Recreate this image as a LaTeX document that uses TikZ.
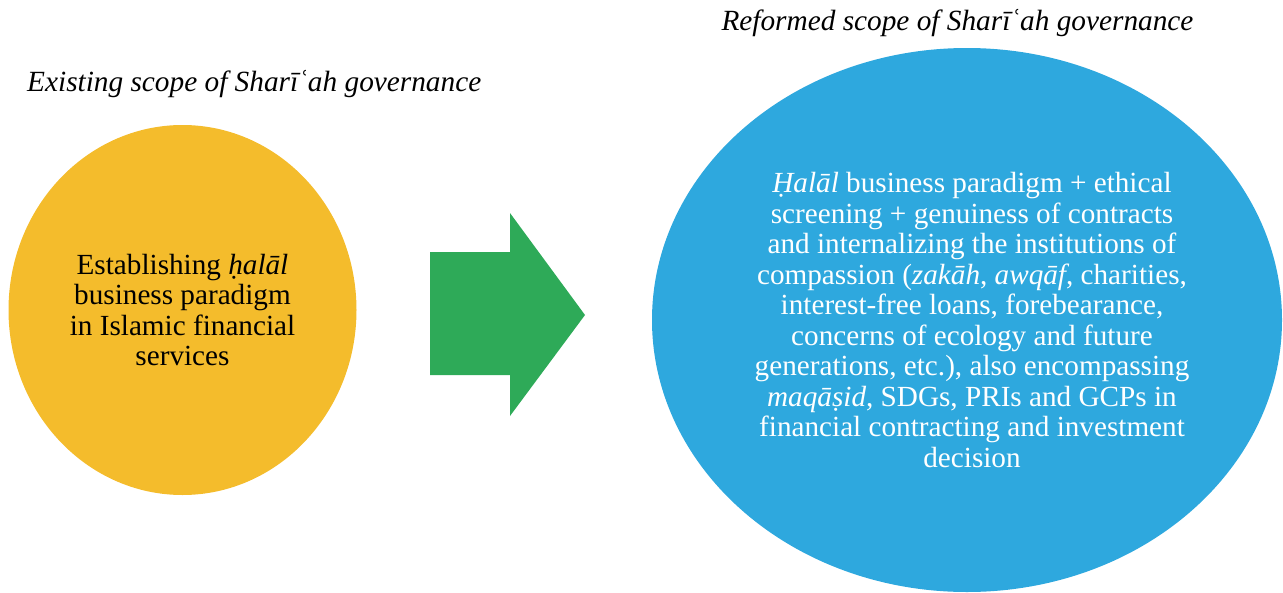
\documentclass[tikz,border=0pt]{standalone}
\usepackage{fontspec}
\setmainfont{Liberation Serif}
\usetikzlibrary{shapes.geometric,positioning}
\definecolor{oldyellow}{RGB}{244,188,44}
\definecolor{shiftgreen}{RGB}{46,170,88}
\definecolor{newblue}{RGB}{46,168,222}

\begin{document}
\begin{tikzpicture}[x=1pt,y=-1pt,
  bubble/.style={ellipse,inner sep=0pt},
  bubbletext/.style={align=center,font=\fontsize{29.2}{30.5}\selectfont},
  heading/.style={font=\fontsize{29.3}{30}\selectfont\itshape,inner sep=0pt}]
\useasboundingbox (0,0) rectangle (1283,592);
% the two scopes
\node[bubble,fill=oldyellow,minimum width=348pt,minimum height=370pt] (old) at (182.5,310) {};
\node[bubble,fill=newblue,minimum width=630pt,minimum height=544pt] (new) at (967,320) {};
\node[bubbletext] (oldtext) at (182.5,310) {Establishing \textit{ḥalāl}\\business paradigm\\in Islamic financial\\services};
\node[bubbletext,text=white] (newtext) at (972,320) {\textit{Ḥalāl} business paradigm + ethical\\screening + genuiness of contracts\\and internalizing the institutions of\\compassion (\textit{zakāh}, \textit{awqāf}, charities,\\interest-free loans, forebearance,\\concerns of ecology and future\\generations, etc.), also encompassing\\\textit{maqāṣid}, SDGs, PRIs and GCPs in\\financial contracting and investment\\decision};
% headings
\node[heading,anchor=west] (oldtitle) at (27,84) {Existing scope of Sharīʿah governance};
\node[heading] (newtitle) at (957.5,23) {Reformed scope of Sharīʿah governance};
% block arrow
\fill[shiftgreen] (430,252) -- (510,252) -- (510,213) -- (585,315) -- (510,416) -- (510,375) -- (430,375) -- cycle;
\end{tikzpicture}
\end{document}
